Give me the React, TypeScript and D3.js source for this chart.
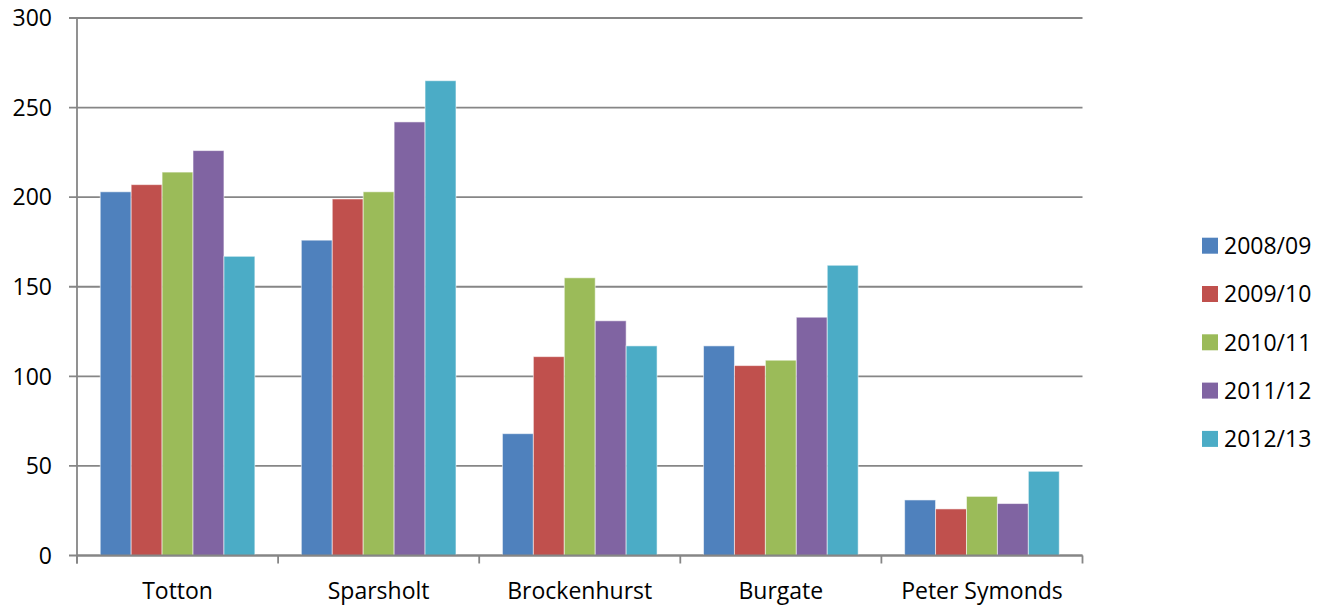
import React from "react";
import * as d3 from "d3";

const categories = ["Totton", "Sparsholt", "Brockenhurst", "Burgate", "Peter Symonds"];
const seriesNames = ["2008/09", "2009/10", "2010/11", "2011/12", "2012/13"];
const s2008 = [203, 176, 68, 117, 31];
const s2009 = [207, 199, 111, 106, 26];
const s2010 = [214, 203, 155, 109, 33];
const s2011 = [226, 242, 131, 133, 29];
const s2012 = [167, 265, 117, 162, 47];
const seriesValues = [s2008, s2009, s2010, s2011, s2012];
const colors = ["#4F81BD", "#C0504D", "#9BBB59", "#8064A2", "#4BACC6"];
const yTicks = [0, 50, 100, 150, 200, 250, 300];

const W = 1334;
const H = 610;
const left = 77;
const right = 1082.5;
const top = 18;
const bottom = 555.5;
const FONT = "'Open Sans', sans-serif";
const FS = 23;
const GRID = "#868686";

export default function App() {
  const x = d3.scaleBand<string>().domain(categories).range([left, right]).paddingInner(0.231).paddingOuter(0.1155);
  const xs = d3.scaleBand<string>().domain(seriesNames).range([0, x.bandwidth()]).padding(0);
  const y = d3.scaleLinear().domain([0, 300]).range([bottom, top]);
  const step = (right - left) / categories.length;

  return (
    <svg width={W} height={H} style={{ position: "absolute", left: 0, top: 0, background: "#fff" }}>
      {/* gridlines and y ticks */}
      {yTicks.map((t) => (
        <g key={t}>
          <line x1={left - 8} x2={right} y1={y(t)} y2={y(t)} stroke={GRID} strokeWidth={1.8} />
          <text x={52} y={y(t)} dy="0.36em" textAnchor="end" fontFamily={FONT} fontSize={FS} fill="#000">
            {t}
          </text>
        </g>
      ))}
      {/* bars */}
      {categories.map((c, ci) => (
        <g key={c} transform={`translate(${x(c)},0)`}>
          {seriesNames.map((s, si) => {
            const v = seriesValues[si][ci];
            return (
              <rect
                key={s}
                x={xs(s)}
                y={y(v)}
                width={xs.bandwidth()}
                height={bottom - y(v)}
                fill={colors[si]}
                stroke="rgba(255,255,255,0.55)"
                strokeWidth={1}
              />
            );
          })}
        </g>
      ))}
      {/* axes */}
      <line x1={left} x2={left} y1={top} y2={bottom + 8} stroke={GRID} strokeWidth={1.8} />
      <line x1={left} x2={right} y1={bottom} y2={bottom} stroke={GRID} strokeWidth={1.8} />
      {d3.range(categories.length + 1).map((i) => (
        <line key={i} x1={left + i * step} x2={left + i * step} y1={bottom} y2={bottom + 8} stroke={GRID} strokeWidth={1.8} />
      ))}
      {categories.map((c) => (
        <text key={c} x={(x(c) as number) + x.bandwidth() / 2} y={591} dy="0.36em" textAnchor="middle" fontFamily={FONT} fontSize={FS} fill="#000">
          {c}
        </text>
      ))}
      {/* legend */}
      {seriesNames.map((s, i) => {
        const cy = 245.7 + i * 48.3;
        return (
          <g key={s}>
            <rect x={1202} y={cy - 8} width={16} height={16} fill={colors[i]} />
            <text x={1224} y={cy} dy="0.36em" fontFamily={FONT} fontSize={FS} fill="#000">
              {s}
            </text>
          </g>
        );
      })}
    </svg>
  );
}
